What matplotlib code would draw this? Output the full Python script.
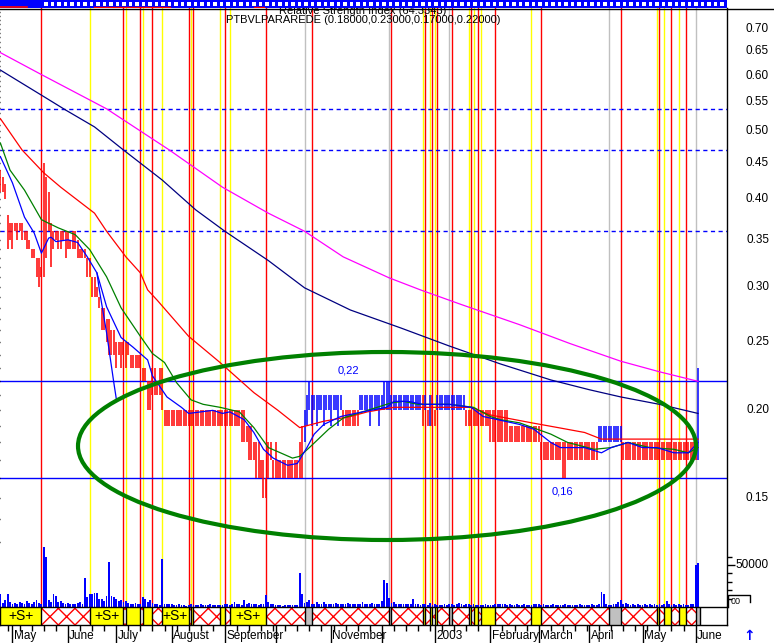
import matplotlib
matplotlib.use('Agg')
import matplotlib.pyplot as plt
import matplotlib.transforms as mtransforms
from matplotlib.patches import Ellipse, Rectangle
from matplotlib.lines import Line2D
from matplotlib.ticker import FixedLocator, NullFormatter
import numpy as np
import pandas as pd

plt.rcParams['font.family'] = ['Liberation Sans', 'DejaVu Sans']
plt.rcParams['hatch.linewidth'] = 1.0

# trading days on the chart
dates = pd.bdate_range('2002-04-24', '2003-06-03')

# daily high / low in centavos
high = [
    44, 43, 42, 38, 37, 37, 37, 37, 37, 37,
    36, 36, 35, 34, 34, 33, 33, 32, 45, 43,
    41, 37, 36, 36, 36, 36, 36, 36, 36, 35,
    36, 36, 35, 34, 34, 34, 33, 33, 31, 31,
    30, 29, 28, 28, 27, 27, 26, 26, 25, 25,
    25, 25, 25, 25, 24, 24, 24, 24, 24, 23,
    23, 22, 22, 23, 23, 22, 23, 23, 20, 20,
    20, 20, 20, 20, 20, 20, 20, 20, 20, 20,
    20, 20, 20, 20, 20, 20, 20, 20, 20, 20,
    20, 20, 20, 20, 20, 20, 20, 20, 20, 20,
    20, 20, 19, 19, 19, 18, 18, 18, 17, 17,
    16, 18, 18, 17, 18, 17, 17, 17, 17, 17,
    17, 17, 17, 17, 18, 19, 20, 21, 22, 21,
    21, 21, 21, 21, 21, 21, 21, 21, 21, 21,
    21, 21, 20, 20, 20, 20, 20, 20, 20, 21,
    21, 21, 21, 21, 21, 21, 21, 21, 21, 22,
    22, 22, 21, 21, 21, 21, 21, 21, 21, 21,
    21, 21, 21, 21, 21, 21, 21, 20, 21, 21,
    20, 21, 21, 21, 21, 21, 21, 21, 21, 21,
    21, 21, 21, 20, 20, 20, 20, 20, 20, 20,
    20, 20, 20, 20, 20, 20, 20, 20, 20, 20,
    20, 19, 19, 19, 19, 19, 19, 19, 19, 19,
    19, 19, 19, 19, 18, 18, 18, 18, 18, 18,
    18, 18, 18, 18, 18, 18, 18, 18, 18, 18,
    18, 18, 18, 18, 18, 18, 18, 18, 19, 19,
    19, 19, 19, 19, 19, 19, 19, 19, 18, 18,
    18, 18, 18, 18, 18, 18, 18, 18, 18, 18,
    18, 18, 18, 18, 18, 18, 18, 18, 18, 18,
    18, 18, 18, 18, 18, 18, 18, 18, 18, 23,
]
low = [
    41, 41, 40, 34, 35, 34, 36, 35, 36, 35,
    35, 34, 34, 33, 33, 31, 30, 31, 31, 33,
    36, 32, 34, 35, 34, 34, 35, 33, 34, 34,
    34, 34, 33, 33, 33, 33, 31, 31, 29, 29,
    29, 28, 26, 26, 25, 24, 24, 24, 23, 24,
    23, 24, 23, 24, 23, 23, 23, 23, 23, 22,
    22, 20, 20, 21, 21, 21, 21, 20, 19, 19,
    19, 19, 19, 19, 19, 19, 19, 19, 19, 19,
    19, 19, 19, 19, 19, 19, 19, 19, 19, 19,
    19, 19, 19, 19, 19, 19, 19, 19, 19, 19,
    18, 18, 18, 17, 17, 17, 16, 16, 16, 15,
    15, 16, 17, 16, 16, 16, 16, 16, 16, 16,
    16, 16, 16, 16, 16, 16, 18, 19, 20, 19,
    20, 19, 20, 20, 19, 20, 20, 19, 20, 20,
    19, 20, 19, 19, 19, 19, 19, 19, 19, 20,
    20, 20, 20, 19, 20, 20, 20, 19, 20, 20,
    20, 20, 20, 20, 20, 20, 20, 20, 20, 20,
    20, 20, 20, 20, 20, 19, 20, 19, 19, 19,
    19, 20, 20, 20, 20, 20, 20, 20, 20, 20,
    20, 20, 20, 19, 19, 19, 19, 19, 19, 19,
    19, 19, 19, 18, 18, 18, 18, 18, 18, 18,
    18, 18, 18, 18, 18, 18, 18, 18, 18, 18,
    18, 18, 18, 18, 17, 17, 17, 17, 17, 17,
    17, 17, 17, 16, 16, 17, 17, 17, 17, 17,
    17, 17, 17, 17, 17, 17, 17, 17, 18, 18,
    18, 18, 18, 18, 18, 18, 18, 18, 17, 17,
    17, 17, 17, 17, 17, 17, 17, 17, 17, 17,
    17, 17, 17, 17, 17, 17, 17, 17, 17, 17,
    17, 17, 17, 17, 17, 17, 17, 17, 17, 17,
]
# r = falling day, b = rising day
bar_colour = ('rrrrrrrrrr' 'rrrrrrrrrr' 'rrrrrrrrrr' 'rrrrrrrrrr'
              'rrrrrrrrrr' 'rrrrrrrrrr' 'rrrrrrrrrr' 'rrrrrrrrrr'
              'rrrrrrrrrr' 'rrrrrrrrrr' 'rrrrrrrrrr' 'rrrrrrrrrr'
              'rrrrrrbbbb' 'bbbbbbbbbb' 'bbrrrrrrrb' 'bbbbbbbbbb'
              'bbbbbbbbbb' 'bbbbbrbrbr' 'rbbbbbbbbb' 'bbbrrrrrrr'
              'rrrrrrrrrr' 'rrrrrrrrrr' 'rrrrrrrrrr' 'rrrrrrrrrr'
              'rrrrrrrrbb' 'bbbbbbbbrr' 'rrrrrrrrrr' 'rrrrrrrrrr'
              'rrrrrrrrrb')
# volume in thousands
volume_k = [
    16, 5, 8, 16, 6, 4, 5, 4, 6, 5,
    4, 7, 5, 4, 6, 8, 5, 4, 71, 59,
    8, 6, 16, 13, 6, 7, 5, 4, 5, 4,
    3, 4, 5, 6, 3, 34, 12, 16, 16, 17,
    17, 10, 9, 7, 13, 53, 13, 12, 10, 7,
    8, 6, 7, 5, 4, 3, 5, 3, 4, 12,
    9, 6, 8, 5, 4, 3, 2, 57, 4, 3,
    3, 4, 2, 2, 3, 2, 2, 1, 2, 3,
    2, 2, 2, 3, 2, 2, 2, 3, 2, 2,
    2, 2, 2, 3, 4, 2, 3, 6, 3, 4,
    2, 8, 3, 5, 4, 3, 4, 2, 3, 3,
    14, 6, 4, 3, 2, 2, 2, 1, 2, 2,
    2, 2, 2, 2, 41, 16, 5, 6, 8, 4,
    3, 6, 3, 4, 6, 3, 3, 4, 3, 5,
    3, 4, 3, 4, 5, 3, 4, 3, 3, 4,
    6, 3, 4, 3, 5, 3, 4, 3, 7, 32,
    28, 11, 5, 6, 4, 3, 3, 4, 3, 3,
    3, 10, 3, 3, 2, 3, 4, 2, 5, 2,
    3, 2, 2, 2, 3, 2, 4, 3, 2, 3,
    5, 3, 2, 4, 3, 2, 3, 2, 2, 2,
    2, 3, 2, 2, 2, 3, 4, 3, 4, 3,
    2, 3, 2, 2, 3, 2, 2, 3, 2, 2,
    2, 3, 3, 4, 2, 3, 2, 2, 2, 3,
    2, 2, 2, 2, 3, 2, 2, 2, 2, 2,
    3, 2, 2, 2, 2, 3, 2, 2, 3, 18,
    16, 3, 2, 2, 3, 3, 6, 8, 3, 5,
    3, 2, 3, 2, 3, 2, 2, 3, 2, 3,
    2, 3, 2, 3, 2, 3, 7, 3, 2, 3,
    2, 3, 2, 3, 2, 2, 3, 3, 50, 52,
]

# moving averages (bar index, price)
ma_magenta_x = [0, 17, 44, 70, 92, 111, 126, 142, 161, 174, 191, 215, 236, 257, 273, 289]
ma_magenta_y = [0.647, 0.602, 0.538, 0.470, 0.416, 0.382, 0.360, 0.331, 0.309, 0.297,
                0.283, 0.265, 0.249, 0.235, 0.227, 0.220]
ma_navy_x = [0, 18, 27, 39, 51, 67, 81, 93, 111, 126, 145, 166, 186, 207, 228, 244, 257, 273, 289]
ma_navy_y = [0.611, 0.560, 0.536, 0.507, 0.470, 0.426, 0.386, 0.360, 0.327, 0.299,
             0.278, 0.262, 0.247, 0.233, 0.221, 0.214, 0.209, 0.204, 0.198]
ma_red_x = [0, 9, 18, 25, 39, 44, 52, 58, 61, 65, 78, 91, 105, 115, 124, 134, 145, 152,
            163, 182, 195, 203, 220, 231, 242, 249, 260, 289]
ma_red_y = [0.521, 0.470, 0.436, 0.416, 0.382, 0.360, 0.331, 0.314, 0.297, 0.287,
            0.255, 0.234, 0.212, 0.200, 0.189, 0.193, 0.196, 0.199, 0.202, 0.202,
            0.202, 0.197, 0.192, 0.189, 0.186, 0.182, 0.182, 0.182]
ma_green_x = [0, 4, 10, 17, 19, 24, 31, 37, 44, 50, 58, 63, 68, 73, 79, 84, 91, 99, 105, 111,
              116, 121, 124, 128, 136, 142, 150, 162, 167, 173, 186, 196, 203, 207, 215, 228,
              235, 246, 253, 260, 269, 279, 285, 289]
ma_green_y = [0.481, 0.440, 0.412, 0.374, 0.371, 0.364, 0.356, 0.339, 0.310, 0.280,
              0.255, 0.241, 0.234, 0.219, 0.207, 0.204, 0.202, 0.199, 0.189, 0.177,
              0.174, 0.171, 0.172, 0.177, 0.188, 0.195, 0.199, 0.205, 0.206, 0.204,
              0.204, 0.202, 0.196, 0.194, 0.192, 0.185, 0.180, 0.176, 0.177, 0.180,
              0.177, 0.176, 0.174, 0.177]
ma_blue_x = [0, 5, 10, 14, 17, 20, 21, 23, 28, 32, 36, 40, 44, 50, 55, 61, 63, 69, 75, 78,
             83, 88, 92, 95, 101, 105, 109, 113, 119, 123, 127, 130, 134, 141, 150, 160, 163,
             169, 175, 186, 195, 200, 206, 215, 221, 228, 232, 242, 249, 253, 260, 266, 272,
             279, 285, 289]
ma_blue_y = [0.460, 0.422, 0.377, 0.358, 0.335, 0.352, 0.353, 0.348, 0.350, 0.347,
             0.331, 0.314, 0.281, 0.254, 0.246, 0.236, 0.224, 0.209, 0.202, 0.198,
             0.199, 0.200, 0.198, 0.199, 0.194, 0.186, 0.176, 0.171, 0.167, 0.168,
             0.177, 0.185, 0.191, 0.196, 0.199, 0.202, 0.206, 0.206, 0.204, 0.204,
             0.202, 0.196, 0.194, 0.191, 0.188, 0.180, 0.177, 0.177, 0.174, 0.177,
             0.180, 0.177, 0.177, 0.174, 0.174, 0.180]
blue_stub_x = [40, 41, 44, 47, 48]
blue_stub_y = [0.314, 0.297, 0.258, 0.219, 0.208]

# signal bars
red_signals = [17, 51, 58, 63, 78, 80, 93, 110, 129, 162, 176, 179, 181, 187, 195, 198,
               205, 224, 257, 273, 278, 284]
yellow_signals = [37, 52, 59, 67, 79, 91, 95, 175, 178, 180, 194, 196, 199, 220, 272, 275, 281]
grey_signals = [126, 161, 186, 252, 288]

dashed_levels = [0.538, 0.470, 0.360]
support_levels = [0.22, 0.16]
price_ticks = [0.15, 0.20, 0.25, 0.30, 0.35, 0.40, 0.45, 0.50, 0.55, 0.60, 0.65, 0.70]
month_labels = ['May', 'June', 'July', 'August', 'September', '', 'November', '',
                '2003', 'February', 'March', 'April', 'May', 'June']

W, H = 774, 643
RED, BLUE, YELLOW, GREY = '#ff0000', '#0000ff', '#ffff00', '#c0c0c0'


def px_box(x0, y0, x1, y1):
    return [x0 / W, 1 - y1 / H, (x1 - x0) / W, (y1 - y0) / H]


fig = plt.figure(figsize=(W / 100, H / 100), dpi=100)
x = np.arange(len(dates))
XLIM = (-0.15, 301.0)

ax = fig.add_axes(px_box(0, 8, 727, 607))
ax.set_yscale('log')
ax.set_xlim(*XLIM)
ax.set_ylim(0.1049, 0.749)
for s in ['left', 'top', 'bottom']:
    ax.spines[s].set_visible(False)
ax.spines['right'].set_linewidth(1)
ax.set_xticks([])
ax.yaxis.tick_right()
ax.yaxis.set_major_locator(FixedLocator(price_ticks))
minor = [v / 100 for v in range(13, 75) if v % 5 != 0]
ax.yaxis.set_minor_locator(FixedLocator(minor))
ax.yaxis.set_major_formatter(NullFormatter())
ax.yaxis.set_minor_formatter(NullFormatter())
ax.tick_params(axis='y', which='major', length=6, width=1)
ax.tick_params(axis='y', which='minor', length=3.5, width=1)

ytrans = mtransforms.blended_transform_factory(ax.transAxes, ax.transData)
for p in price_ticks:
    ax.text(1 + 42 / 727, p, '%.2f' % p, transform=ytrans, ha='right', va='center',
            fontsize=8.5, clip_on=False)

for i in red_signals:
    ax.axvline(i, color=RED, lw=1.0, zorder=1)
for i in yellow_signals:
    ax.axvline(i, color=YELLOW, lw=1.0, zorder=1)
for i in grey_signals:
    ax.axvline(i, color=GREY, lw=1.0, zorder=1)

for lv in dashed_levels:
    ax.axhline(lv, color=BLUE, lw=1, ls=(0, (3, 2.5)), zorder=1.5)
for lv in support_levels:
    ax.axhline(lv, color=BLUE, lw=1, zorder=1.5)

cols = [RED if c == 'r' else BLUE for c in bar_colour]
ax.vlines(x, np.array(low) / 100, np.array(high) / 100, colors=cols, lw=1.1, zorder=2)

ax.plot(ma_magenta_x, ma_magenta_y, color='#ff00ff', lw=0.9, zorder=3)
ax.plot(ma_navy_x, ma_navy_y, color='#000080', lw=0.9, zorder=3)
ax.plot(ma_red_x, ma_red_y, color=RED, lw=0.9, zorder=3)
ax.plot(ma_green_x, ma_green_y, color='#008000', lw=0.9, zorder=3)
ax.plot(ma_blue_x, ma_blue_y, color=BLUE, lw=0.9, zorder=3)
ax.plot(blue_stub_x, blue_stub_y, color=BLUE, lw=0.9, zorder=3)

ax.text(144, 0.2283, '0,22', color=BLUE, fontsize=8, ha='center', va='center')
ax.text(233, 0.153, '0,16', color=BLUE, fontsize=8, ha='center', va='center')

ax.add_patch(Ellipse((387 / 727, (607 - 446) / 599), 618 / 727, 188 / 599,
                     transform=ax.transAxes, fill=False, ec='#008000', lw=3, zorder=6))

# volume on its own scale
axv = ax.twinx()
axv.set_ylim(0, 713000)
for s in axv.spines.values():
    s.set_visible(False)
axv.bar(x, np.array(volume_k) * 1000, width=0.75, color=BLUE, zorder=2)
axv.yaxis.set_major_locator(FixedLocator([50000]))
axv.yaxis.set_minor_locator(FixedLocator([10000, 20000, 30000, 40000, 60000]))
axv.yaxis.set_major_formatter(NullFormatter())
axv.tick_params(axis='y', which='major', length=6, width=1)
axv.tick_params(axis='y', which='minor', length=3.5, width=1)
vtrans = mtransforms.blended_transform_factory(axv.transAxes, axv.transData)
axv.text(1 + 42 / 727, 50000, '50000', transform=vtrans, ha='right', va='center',
         fontsize=8.5, clip_on=False)

# signal strip
axs = fig.add_axes(px_box(0, 607, 727, 625))
axs.set_xlim(*XLIM)
axs.set_ylim(0, 1)
events = sorted([(i, 'r') for i in red_signals] + [(i, 'y') for i in yellow_signals]
                + [(i, 'g') for i in grey_signals])
starts = [XLIM[0]] + [e[0] for e in events]
kinds = ['y'] + [e[1] for e in events]
ends = starts[1:] + [len(dates)]
for s, e, k in zip(starts, ends, kinds):
    if k == 'r':
        axs.add_patch(Rectangle((s, 0), e - s, 1, facecolor='white', edgecolor=RED,
                                hatch='xx', lw=0))
    else:
        axs.add_patch(Rectangle((s, 0), e - s, 1, facecolor=YELLOW if k == 'y' else GREY,
                                lw=0))
    axs.axvline(e, color='black', lw=1)
    if k == 'y' and e - s >= 10:
        axs.text((s + e) / 2, 0.5, '+S+', ha='center', va='center', fontsize=10)
for sp in axs.spines.values():
    sp.set_linewidth(1)
axs.set_yticks([])
month_idx = [i for i in range(1, len(dates)) if dates[i].month != dates[i - 1].month]
week_idx = [i for i in range(len(dates)) if dates[i].weekday() == 0 and i not in month_idx]
axs.set_xticks(month_idx)
axs.set_xticks(week_idx, minor=True)
axs.tick_params(axis='x', which='major', length=13, width=1, labelbottom=False)
axs.tick_params(axis='x', which='minor', length=4, width=1)
mtrans = mtransforms.blended_transform_factory(axs.transData, axs.transAxes)
for i, lab in zip(month_idx, month_labels):
    axs.text(i + 0.5, -0.62, lab, transform=mtrans, ha='left', va='center', fontsize=8.5,
             clip_on=False)

# RSI band on top
axt = fig.add_axes(px_box(0, 0, 727, 8), zorder=5)
axt.set_xlim(0, 727)
axt.set_ylim(8, 0)
axt.axis('off')
axt.add_patch(Rectangle((0, 0), 727, 8, facecolor=BLUE, lw=0))
for xs in np.arange(44, 724, 6.5):
    axt.add_patch(Rectangle((xs, 2), 3.5, 4, facecolor='white', lw=0))
axt.plot([0, 27], [7, 7], color=RED, lw=1.2)
axt.plot([94, 170], [6.5, 6.5], color=RED, lw=1)
axt.plot([254, 264], [6.5, 6.5], color=RED, lw=1)

fig.add_artist(Line2D([0, 1], [1 - 8.5 / H] * 2, color='black', lw=1))
fig.text(363 / W, 1 - 11 / H, 'Relative Strength Index (64.3343)', ha='center',
         va='center', fontsize=8)
fig.text(363 / W, 1 - 20 / H, 'PTBVLPARAREDE (0.18000,0.23000,0.17000,0.22000)',
         ha='center', va='center', fontsize=8)

# small scale box and arrow at bottom right
fig.add_artist(Line2D([728 / W, 728 / W, 750 / W, 750 / W],
                      [1 - 607 / H, 1 - 595 / H, 1 - 595 / H, 1 - 602 / H],
                      color='black', lw=1))
fig.text(731 / W, 1 - 601 / H, '00', fontsize=6.5, ha='left', va='center')
fig.text(749 / W, 1 - 636 / H, '\u2191', fontsize=10, color=BLUE, fontweight='bold',
         ha='center', va='center', family='DejaVu Sans')

fig.savefig('out.png', dpi=100)
